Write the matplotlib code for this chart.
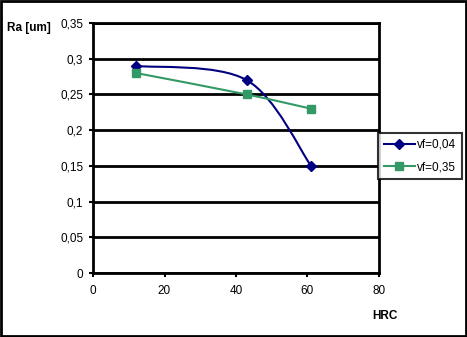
import numpy as np
import matplotlib
matplotlib.use("Agg")
import matplotlib.pyplot as plt
from matplotlib.path import Path
from matplotlib.patches import PathPatch, Rectangle

hrc = [12, 43, 61]
ra_004 = [0.29, 0.27, 0.15]
ra_035 = [0.28, 0.25, 0.23]
yticks = [0, 0.05, 0.1, 0.15, 0.2, 0.25, 0.3, 0.35]
xticks = [0, 20, 40, 60, 80]

plt.rcParams['font.family'] = ['Liberation Sans', 'DejaVu Sans']


def smooth_path(x, y, t=1 / 6):
    # Excel-like smoothed line: cubic Bezier through each point (Catmull-Rom)
    p = np.column_stack([x, y]).astype(float)
    ext = np.vstack([p[0], p, p[-1]])
    verts = [tuple(p[0])]
    codes = [Path.MOVETO]
    for i in range(1, len(ext) - 2):
        p0, p1, p2, p3 = ext[i - 1], ext[i], ext[i + 1], ext[i + 2]
        c1 = p1 + (p2 - p0) * t
        c2 = p2 - (p3 - p1) * t
        verts += [tuple(c1), tuple(c2), tuple(p2)]
        codes += [Path.CURVE4] * 3
    return Path(verts, codes)


fig = plt.figure(figsize=(4.67, 3.37), dpi=100)
ax = fig.add_axes([93 / 467, 64 / 337, 286 / 467, 250 / 337])

blue = '#000080'
green = '#339966'

ax.add_patch(PathPatch(smooth_path(hrc, ra_004), fill=False, ec=blue, lw=1.5, zorder=3))
ax.add_patch(PathPatch(smooth_path(hrc, ra_035), fill=False, ec=green, lw=1.5, zorder=3))
ax.plot(hrc, ra_004, ls='none', marker='D', ms=5, color=blue, zorder=4)
ax.plot(hrc, ra_035, ls='none', marker='s', ms=6, color=green, zorder=4)

ax.set_xlim(0, 80)
ax.set_ylim(0, 0.35)
ax.set_xticks(xticks)
ax.set_yticks(yticks)
ax.set_yticklabels([f"{v:g}".replace('.', ',') for v in yticks])
ax.grid(axis='y', color='black', lw=2)
ax.set_axisbelow(True)
for s in ax.spines.values():
    s.set_linewidth(2)
ax.tick_params(labelsize=8.5, width=1.5, length=3, direction='out', pad=4)
ax.tick_params(axis='x', pad=6)

# legend entries drawn with connecting lines like Excel
h1, = ax.plot([], [], color=blue, marker='D', ms=5, lw=1.5)
h2, = ax.plot([], [], color=green, marker='s', ms=6, lw=1.5)
leg = fig.legend([h1, h2], ['vf=0,04', 'vf=0,35'], loc='upper left',
                 bbox_to_anchor=(378 / 467, 1 - 133 / 337), fontsize=8.5,
                 frameon=True, fancybox=False, edgecolor='black',
                 handlelength=2.6, borderpad=0.5, labelspacing=0.9,
                 handletextpad=0.2, borderaxespad=0)
leg.get_frame().set_linewidth(1.5)

fig.text(7 / 467, 1 - 28 / 337, 'Ra [um]', fontsize=8.5, fontweight='bold',
         va='center', ha='left')
fig.text(372 / 467, 1 - 316 / 337, 'HRC', fontsize=8.5, fontweight='bold',
         va='center', ha='left')

fig.patches.append(Rectangle((0.002, 0.003), 0.995, 0.994, transform=fig.transFigure,
                             fill=False, ec='black', lw=2))

fig.savefig('out.png', dpi=100)
